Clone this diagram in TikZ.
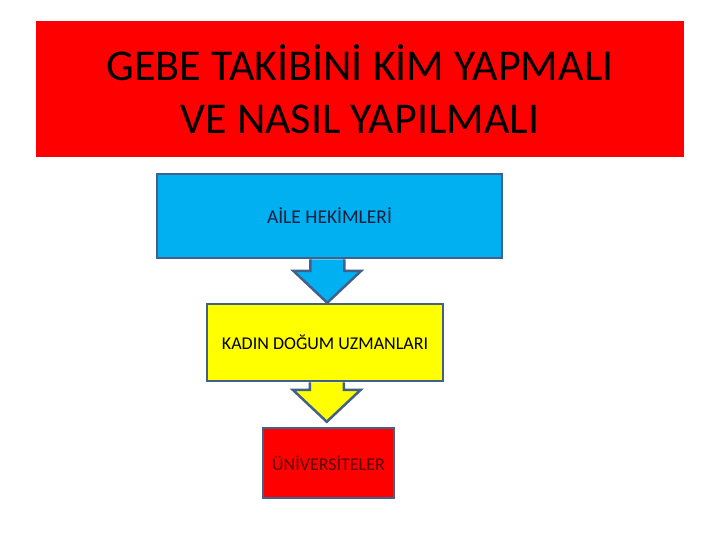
\documentclass[tikz,border=0pt]{standalone}
\usepackage{fontspec}
\setmainfont{Carlito}
\usetikzlibrary{calc}
\definecolor{titlered}{HTML}{FF0000}
\definecolor{boxblue}{HTML}{00B0F0}
\definecolor{boxyellow}{HTML}{FFFF00}
\definecolor{edgeblue}{HTML}{41608A}
\definecolor{navytext}{HTML}{141E3C}
\definecolor{darkredtext}{HTML}{5A0000}
\tikzset{
  boxbase/.style={draw=edgeblue, line width=2.5pt, inner sep=0pt, align=center},
  titlebox/.style={fill=titlered, inner sep=0pt, align=center, minimum width=648pt, minimum height=136pt},
  arrowedge/.style={draw=edgeblue, line width=2.5pt, line join=miter}
}
\newcommand{\blockarrow}[4]{%
  \path let \p1=(#1.south), \p2=(#2.north), \n1={(\x1+\x2)/2}, \n2={\y2+#3pt}, \n3={\n2+32pt}, \n4={\y1} in
    [fill=#4] (\n1-17pt,\n4) -- (\n1-17pt,\n3) -- (\n1-34pt,\n3) -- (\n1,\n2) -- (\n1+34pt,\n3) -- (\n1+17pt,\n3) -- (\n1+17pt,\n4) -- cycle;
  \path let \p1=(#1.south), \p2=(#2.north), \n1={(\x1+\x2)/2}, \n2={\y2+#3pt}, \n3={\n2+32pt}, \n4={\y1} in
    [arrowedge] (\n1-17pt,\n4) -- (\n1-17pt,\n3) -- (\n1-34pt,\n3) -- (\n1,\n2) -- (\n1+34pt,\n3) -- (\n1+17pt,\n3) -- (\n1+17pt,\n4);
}
\begin{document}
\begin{tikzpicture}[x=1pt,y=-1pt]
\useasboundingbox (0,0) rectangle (720,540);
\node[titlebox, font=\fontsize{44}{53}\selectfont] (title) at (360,89) {GEBE TAKİBİNİ KİM YAPMALI\\VE NASIL YAPILMALI};
\node[boxbase, fill=boxblue, minimum width=345pt, minimum height=84pt, text=navytext, font=\fontsize{19.5}{22}\selectfont] (aile) at (329.5,216) {AİLE HEKİMLERİ};
\node[boxbase, fill=boxyellow, minimum width=236pt, minimum height=77pt, text=black, font=\fontsize{18}{21}\selectfont] (kadin) at (325,342.5) {KADIN DOĞUM UZMANLARI};
\node[boxbase, fill=titlered, minimum width=131pt, minimum height=70pt, text=darkredtext, font=\fontsize{18}{21}\selectfont] (univ) at (328.5,463) {ÜNİVERSİTELER};
\blockarrow{aile}{kadin}{0}{boxblue}
\blockarrow{kadin}{univ}{5}{boxyellow}
\end{tikzpicture}
\end{document}
